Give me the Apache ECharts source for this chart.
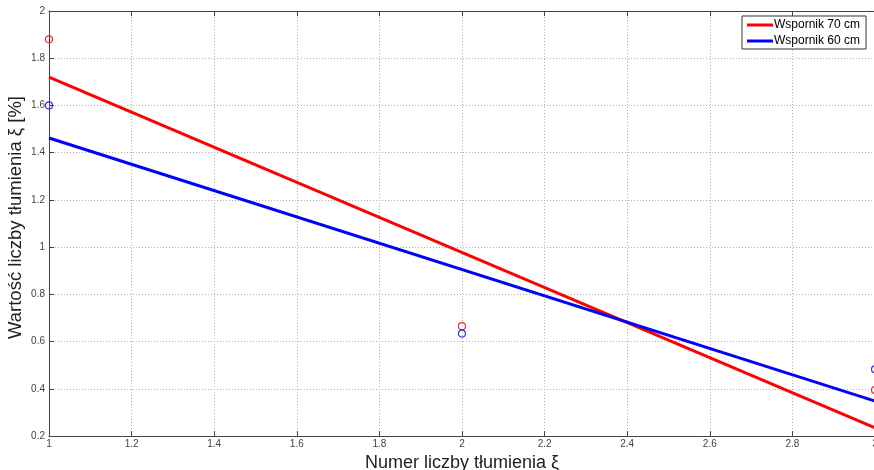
<!DOCTYPE html>
<html><head><meta charset="utf-8">
<script src="https://cdn.jsdelivr.net/npm/echarts@6/dist/echarts.min.js"></script>
<style>html,body{margin:0;padding:0;background:#fff}#c{width:874px;height:470px}</style>
</head><body><div id="c"></div>
<script>
const xPoints = [1, 2, 3];
const red70Points = [1.88, 0.665, 0.395];
const blue60Points = [1.60, 0.634, 0.483];
const red70Line = [[1, 1.72], [3, 0.235]];
const blue60Line = [[1, 1.462], [3, 0.348]];
const seriesNames = ['Wspornik 70 cm', 'Wspornik 60 cm'];
const xTicks = [1, 1.2, 1.4, 1.6, 1.8, 2, 2.2, 2.4, 2.6, 2.8, 3];
const yTicks = [0.2, 0.4, 0.6, 0.8, 1, 1.2, 1.4, 1.6, 1.8, 2];

const chart = echarts.init(document.getElementById('c'), null, {renderer: 'canvas'});
const fmt = v => String(Math.round(v * 10) / 10);
const gridLine = {show: true, lineStyle: {color: '#b0b0b0', type: [1, 2], width: 1}};
chart.setOption({
  animation: false,
  backgroundColor: '#fff',
  grid: {left: 49, top: 11, width: 826, height: 425, outerBoundsMode: 'none', containLabel: false},
  legend: {
    data: seriesNames.map(n => ({name: n, icon: 'rect'})),
    orient: 'vertical', left: 742, top: 16,
    itemWidth: 26, itemHeight: 3, itemGap: 4,
    backgroundColor: '#fff', borderColor: '#333', borderWidth: 1,
    padding: [3, 6, 2, 5],
    textStyle: {fontFamily: 'Liberation Sans, Arial', fontSize: 12, color: '#000', padding: [0, 0, 0, -4]}
  },
  xAxis: [{
    type: 'value', min: 1, max: 3, interval: 0.2,
    name: 'Numer liczby tłumienia ξ', nameLocation: 'middle', nameGap: 11,
    nameTextStyle: {fontFamily: 'Liberation Sans, Arial', fontSize: 18, color: '#222'},
    axisLine: {show: true, lineStyle: {color: '#444', width: 1}},
    axisTick: {show: true, inside: true, length: 5, lineStyle: {color: '#444'}},
    axisLabel: {fontFamily: 'Liberation Sans, Arial', fontSize: 10, color: '#444', margin: 3, formatter: fmt, showMaxLabel: true},
    splitLine: gridLine
  }, {
    type: 'value', min: 1, max: 3, interval: 0.2, position: 'top',
    axisLine: {show: true, lineStyle: {color: '#444', width: 1}},
    axisTick: {show: true, inside: true, length: 5, lineStyle: {color: '#444'}},
    axisLabel: {show: false}, splitLine: {show: false}
  }],
  yAxis: [{
    type: 'value', min: 0.2, max: 2, interval: 0.2,
    name: 'Wartość liczby tłumienia ξ [%]', nameLocation: 'middle', nameGap: 24, nameMoveOverlap: false,
    nameTextStyle: {fontFamily: 'Liberation Sans, Arial', fontSize: 18.5, color: '#222', padding: [0, 0, 0, 12]},
    axisLine: {show: true, lineStyle: {color: '#444', width: 1}},
    axisTick: {show: true, inside: true, length: 5, lineStyle: {color: '#444'}},
    axisLabel: {fontFamily: 'Liberation Sans, Arial', fontSize: 10, color: '#444', margin: 4, formatter: fmt},
    splitLine: gridLine
  }],
  series: [
    {name: seriesNames[0], type: 'line', data: red70Line, symbol: 'none',
     lineStyle: {color: '#ff0000', width: 3}, itemStyle: {color: '#ff0000'}, z: 3},
    {name: seriesNames[1], type: 'line', data: blue60Line, symbol: 'none',
     lineStyle: {color: '#0000ff', width: 3}, itemStyle: {color: '#0000ff'}, z: 3},
    {name: 'pts70', type: 'scatter', data: xPoints.map((x, i) => [x, red70Points[i]]),
     symbol: 'circle', symbolSize: 7, itemStyle: {color: 'rgba(0,0,0,0)', borderColor: '#e00000', borderWidth: 1.2}, z: 4},
    {name: 'pts60', type: 'scatter', data: xPoints.map((x, i) => [x, blue60Points[i]]),
     symbol: 'circle', symbolSize: 7, itemStyle: {color: 'rgba(0,0,0,0)', borderColor: '#0000e0', borderWidth: 1.2}, z: 4}
  ]
});
</script></body></html>
